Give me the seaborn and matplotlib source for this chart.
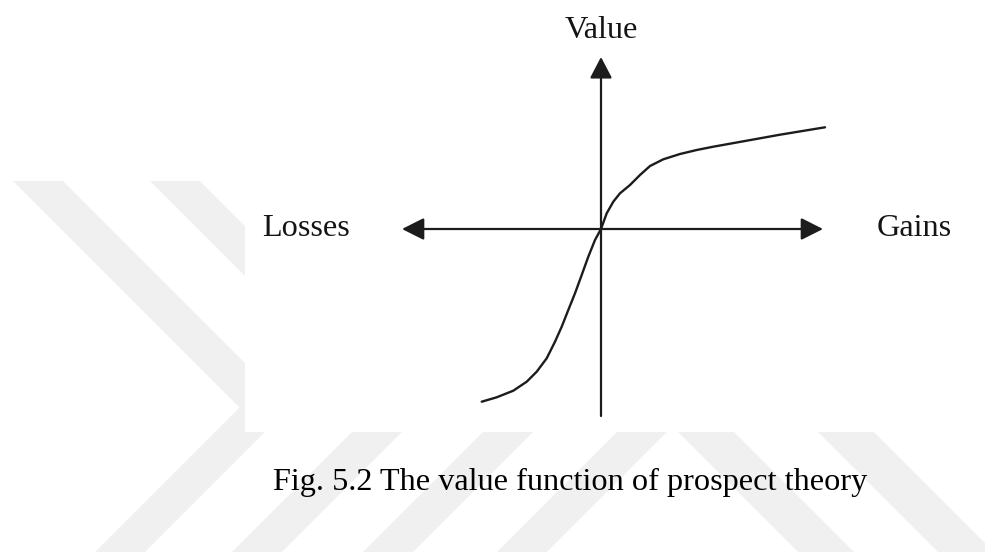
import matplotlib
matplotlib.use("Agg")
import matplotlib.pyplot as plt
import seaborn as sns
import pandas as pd
from matplotlib.patches import Rectangle, Polygon

# ---------------- data ----------------
gain_loss = [-1.193, -1.043, -0.877, -0.743, -0.643, -0.543, -0.46, -0.393, -0.327,
             -0.26, -0.193, -0.127, -0.06, 0.0, 0.057, 0.123, 0.19, 0.29, 0.39,
             0.49, 0.623, 0.79, 0.957, 1.123, 1.457, 1.79, 2.24]
value = [-1.727, -1.683, -1.617, -1.527, -1.427, -1.293, -1.127, -0.977, -0.81,
         -0.643, -0.46, -0.277, -0.11, 0.0, 0.157, 0.273, 0.357, 0.44, 0.54,
         0.63, 0.697, 0.75, 0.79, 0.823, 0.883, 0.943, 1.017]
axis_labels = {"y": "Value", "neg": "Losses", "pos": "Gains"}
caption = "Fig. 5.2 The value function of prospect theory"

df = pd.DataFrame({"x": gain_loss, "v": value})

# ---------------- style ----------------
sns.set_theme(style="white")
plt.rcParams["font.family"] = ["Liberation Serif", "DejaVu Serif"]

fig = plt.figure(figsize=(9.85, 5.52), dpi=100)
ax = fig.add_axes([0, 0, 1, 1])
ax.set_xlim(-6.01, 3.84)
ax.set_ylim(-3.23, 2.29)


def P(px, py):
    # convert picture pixel position to axes data units
    return ((px - 601) / 100.0, (229 - py) / 100.0)


band_col = "#f0f0f0"
# background watermark chevrons
w = 50
for x0 in [13, 150, 281, 415]:
    tipy = 407.5
    d = tipy - 181
    pts = [P(x0, 181), P(x0 + w, 181), P(x0 + w + d, tipy),
           P(x0 + w + d - (552 - tipy), 552), P(x0 + d - (552 - tipy), 552),
           P(x0 + d, tipy)]
    ax.add_patch(Polygon(pts, closed=True, facecolor=band_col, edgecolor="none", zorder=0))
for x0 in [678, 818]:
    ww = 56
    pts = [P(x0 - 120, 312), P(x0 - 120 + ww, 312), P(x0 + ww + 120, 552), P(x0 + 120, 552)]
    ax.add_patch(Polygon(pts, closed=True, facecolor=band_col, edgecolor="none", zorder=0))

# white panel of the figure
x_l, y_b = P(245, 432)
x_r, y_t = P(985, 0)
ax.add_patch(Rectangle((x_l, y_b), x_r - x_l, y_t - y_b, facecolor="white",
                       edgecolor="none", zorder=1))

line_col = "#1c1c1c"
# axes arrows
ax.annotate("", xy=(2.22, 0), xytext=(-1.99, 0),
            arrowprops=dict(arrowstyle="<|-|>,head_length=1.35,head_width=0.68",
                            lw=1.6, color=line_col, mutation_scale=10,
                            shrinkA=0, shrinkB=0), zorder=3)
ax.annotate("", xy=(0, 1.72), xytext=(0, -1.87),
            arrowprops=dict(arrowstyle="-|>,head_length=1.3,head_width=0.68",
                            lw=1.6, color=line_col, mutation_scale=10,
                            shrinkA=0, shrinkB=0), zorder=3)

# value function curve
sns.lineplot(data=df, x="x", y="v", sort=False, estimator=None, color=line_col,
             lw=1.7, ax=ax, zorder=4, solid_joinstyle="round", solid_capstyle="round")

txt_col = "#141414"
fs = 23.2
ax.text(0.005, 1.91, axis_labels["y"], ha="center", va="baseline", fontsize=fs, color=txt_col, zorder=5)
ax.text(-2.95, -0.07, axis_labels["neg"], ha="center", va="baseline", fontsize=fs, color=txt_col, zorder=5)
ax.text(3.13, -0.07, axis_labels["pos"], ha="center", va="baseline", fontsize=fs, color=txt_col, zorder=5)
ax.text(-0.305, -2.61, caption, ha="center", va="baseline", fontsize=fs, color="#000000", zorder=5)

ax.set_xlim(-6.01, 3.84)
ax.set_ylim(-3.23, 2.29)
ax.set_xlabel("")
ax.set_ylabel("")
ax.axis("off")
if ax.get_legend() is not None:
    ax.get_legend().remove()

fig.savefig("out.png", dpi=100)
